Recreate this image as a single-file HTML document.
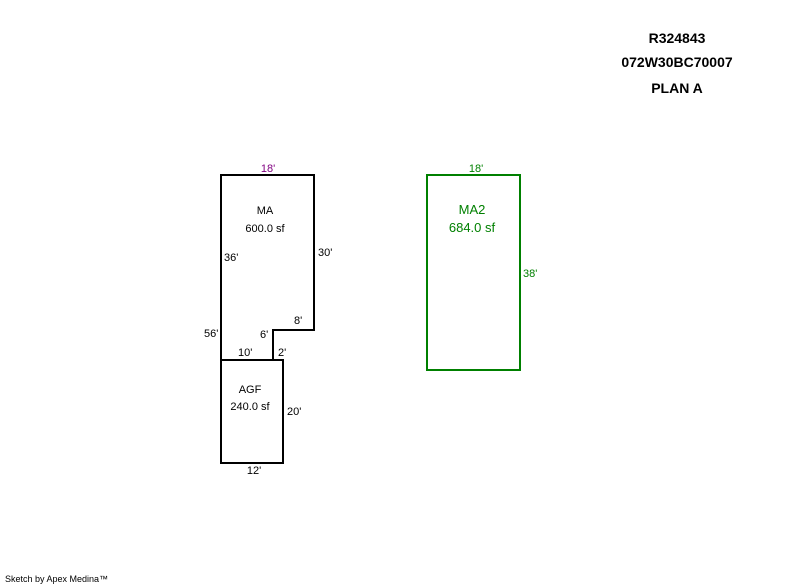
<!DOCTYPE html>
<html><head><meta charset="utf-8"><style>
html,body{margin:0;padding:0;background:#fff;width:800px;height:587px;overflow:hidden}
svg text{font-family:"Liberation Sans",Arial,sans-serif}
</style></head><body>
<svg width="800" height="587" viewBox="0 0 800 587" xmlns="http://www.w3.org/2000/svg">
<g font-size="14" font-weight="bold" text-anchor="middle" fill="#000">
<text x="677" y="43">R324843</text>
<text x="677" y="67">072W30BC70007</text>
<text x="677" y="93">PLAN A</text>
</g>
<g fill="none" stroke="#000" stroke-width="2">
<polygon points="221,175 314,175 314,330 273,330 273,360 221,360"/>
<rect x="221" y="360" width="62" height="103"/>
</g>
<rect x="427" y="175" width="93" height="195" fill="none" stroke="#008000" stroke-width="2"/>
<g font-size="11" fill="#000">
<text x="268" y="172" text-anchor="middle" fill="#800080">18'</text>
<text x="265" y="214" text-anchor="middle">MA</text>
<text x="265" y="232" text-anchor="middle">600.0 sf</text>
<text x="318" y="256">30'</text>
<text x="224" y="261">36'</text>
<text x="294" y="324">8'</text>
<text x="260" y="338">6'</text>
<text x="204" y="337">56'</text>
<text x="238" y="356">10'</text>
<text x="278" y="356">2'</text>
<text x="250" y="393" text-anchor="middle">AGF</text>
<text x="250" y="410" text-anchor="middle">240.0 sf</text>
<text x="287" y="415">20'</text>
<text x="254" y="474" text-anchor="middle">12'</text>
</g>
<g fill="#008000">
<text x="476" y="172" font-size="11" text-anchor="middle">18'</text>
<text x="472" y="214" font-size="13" text-anchor="middle">MA2</text>
<text x="472" y="232" font-size="13" text-anchor="middle">684.0 sf</text>
<text x="523" y="277" font-size="11">38'</text>
</g>
<text x="5" y="582" font-size="9" fill="#000">Sketch by Apex Medina™</text>
</svg>
</body></html>
